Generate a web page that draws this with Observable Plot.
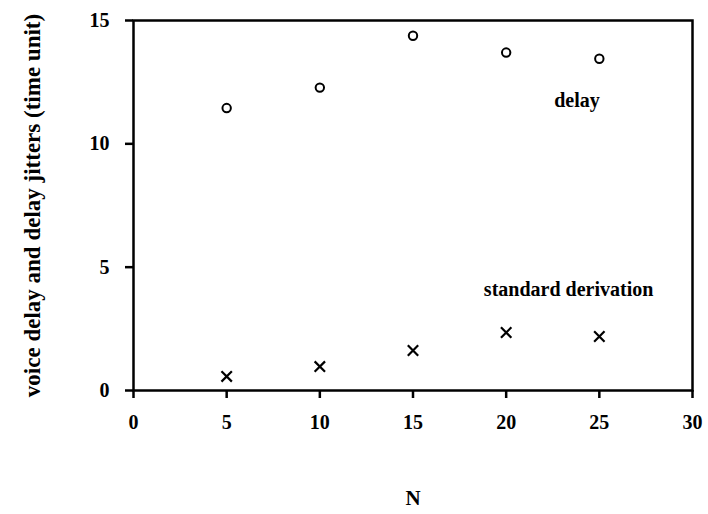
<!DOCTYPE html>
<html>
<head>
<meta charset="utf-8">
<script src="https://cdn.jsdelivr.net/npm/d3@7"></script>
<script src="https://cdn.jsdelivr.net/npm/@observablehq/plot@0.6"></script>
<style>
  html, body { margin: 0; padding: 0; background: #fff; }
  #chart svg { display: block; }
</style>
</head>
<body>
<div id="chart"></div>
<script>
// Number of voice sources N
const nValues = [5, 10, 15, 20, 25];
// Mean voice delay (time units)
const delayMean = [11.45, 12.28, 14.38, 13.7, 13.45];
// Standard deviation of the delay (delay jitter)
const delayStd = [0.57, 0.97, 1.62, 2.35, 2.19];

const xTicks = [0, 5, 10, 15, 20, 25, 30];
const yTicks = [0, 5, 10, 15];

const delayRows = nValues.map((n, i) => ({n, v: delayMean[i]}));
const stdRows = nValues.map((n, i) => ({n, v: delayStd[i]}));

const font = "'Liberation Serif', 'Times New Roman', serif";

const chart = Plot.plot({
  width: 708,
  height: 514,
  marginLeft: 133,
  marginRight: 16,
  marginTop: 20,
  marginBottom: 124,
  style: {fontFamily: font, fontSize: "20px", fontWeight: "bold", color: "#000", background: "#fff"},
  x: {domain: [0, 30]},
  y: {domain: [0, 15]},
  marks: [
    Plot.frame({stroke: "#000", strokeWidth: 2.5}),
    Plot.axisX({
      ticks: xTicks, tickSize: 8, tickPadding: 16, strokeWidth: 2.5,
      label: null, fontSize: 20, fontWeight: "bold"
    }),
    Plot.axisY({
      ticks: yTicks, tickSize: 8, tickPadding: 16, strokeWidth: 2.5,
      label: null, fontSize: 20, fontWeight: "bold"
    }),
    // axis titles
    Plot.text(["N"], {
      frameAnchor: "bottom", dy: 114, text: d => d,
      fontSize: 21, fontWeight: "bold", fill: "#000"
    }),
    Plot.text(["voice delay and delay jitters (time unit)"], {
      frameAnchor: "left", dx: -101, rotate: -90, textAnchor: "middle", text: d => d,
      fontSize: 23, fontWeight: "bold", fill: "#000"
    }),
    Plot.dot(delayRows, {x: "n", y: "v", r: 4.2, stroke: "#000", strokeWidth: 2, fill: "none"}),
    Plot.dot(stdRows, {x: "n", y: "v", symbol: "times", r: 4.8, stroke: "#000", strokeWidth: 2.2}),
    Plot.text(["delay"], {x: 23.8, y: 11.75, text: d => d, fontSize: 20, fontWeight: "bold", fill: "#000"}),
    Plot.text(["standard derivation"], {x: 23.35, y: 4.1, text: d => d, fontSize: 20, fontWeight: "bold", fill: "#000"})
  ]
});

document.getElementById("chart").appendChild(chart);
</script>
</body>
</html>
